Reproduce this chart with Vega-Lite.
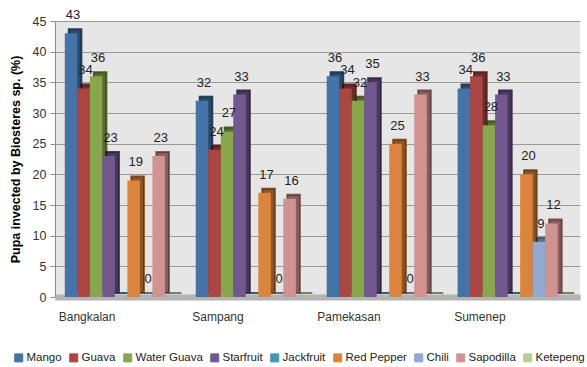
{
  "$schema": "https://vega.github.io/schema/vega-lite/v6.json",
  "width": 525,
  "height": 276,
  "autosize": {"type": "none"},
  "padding": {"left": 55, "top": 21, "right": 7, "bottom": 70},
  "background": "white",
  "config": {
    "font": "Liberation Sans",
    "view": {"fill": "#e6e6e6", "stroke": null}
  },
  "data": {
    "values": [
      {"region": "Bangkalan", "series": "Mango", "value": 43},
      {"region": "Bangkalan", "series": "Guava", "value": 34},
      {"region": "Bangkalan", "series": "Water Guava", "value": 36},
      {"region": "Bangkalan", "series": "Starfruit", "value": 23},
      {"region": "Bangkalan", "series": "Jackfruit", "value": 0},
      {"region": "Bangkalan", "series": "Red Pepper", "value": 19},
      {"region": "Bangkalan", "series": "Chili", "value": 0},
      {"region": "Bangkalan", "series": "Sapodilla", "value": 23},
      {"region": "Bangkalan", "series": "Ketepeng", "value": 0},
      {"region": "Sampang", "series": "Mango", "value": 32},
      {"region": "Sampang", "series": "Guava", "value": 24},
      {"region": "Sampang", "series": "Water Guava", "value": 27},
      {"region": "Sampang", "series": "Starfruit", "value": 33},
      {"region": "Sampang", "series": "Jackfruit", "value": 0},
      {"region": "Sampang", "series": "Red Pepper", "value": 17},
      {"region": "Sampang", "series": "Chili", "value": 0},
      {"region": "Sampang", "series": "Sapodilla", "value": 16},
      {"region": "Sampang", "series": "Ketepeng", "value": 0},
      {"region": "Pamekasan", "series": "Mango", "value": 36},
      {"region": "Pamekasan", "series": "Guava", "value": 34},
      {"region": "Pamekasan", "series": "Water Guava", "value": 32},
      {"region": "Pamekasan", "series": "Starfruit", "value": 35},
      {"region": "Pamekasan", "series": "Jackfruit", "value": 0},
      {"region": "Pamekasan", "series": "Red Pepper", "value": 25},
      {"region": "Pamekasan", "series": "Chili", "value": 0},
      {"region": "Pamekasan", "series": "Sapodilla", "value": 33},
      {"region": "Pamekasan", "series": "Ketepeng", "value": 0},
      {"region": "Sumenep", "series": "Mango", "value": 34},
      {"region": "Sumenep", "series": "Guava", "value": 36},
      {"region": "Sumenep", "series": "Water Guava", "value": 28},
      {"region": "Sumenep", "series": "Starfruit", "value": 33},
      {"region": "Sumenep", "series": "Jackfruit", "value": 0},
      {"region": "Sumenep", "series": "Red Pepper", "value": 20},
      {"region": "Sumenep", "series": "Chili", "value": 9},
      {"region": "Sumenep", "series": "Sapodilla", "value": 12},
      {"region": "Sumenep", "series": "Ketepeng", "value": 0}
    ]
  },
  "encoding": {
    "x": {
      "field": "region",
      "type": "nominal",
      "sort": ["Bangkalan", "Sampang", "Pamekasan", "Sumenep"],
      "scale": {"paddingInner": 0.14, "paddingOuter": 0.075},
      "axis": {
        "title": null,
        "labelAngle": 0,
        "labelFontSize": 12,
        "labelColor": "#333333",
        "labelPadding": 14,
        "labelOffset": -34,
        "ticks": false,
        "domainColor": "#b3b3b3",
        "domainWidth": 6
      }
    },
    "y": {
      "field": "value",
      "type": "quantitative",
      "scale": {"domain": [0, 45], "nice": false},
      "axis": {
        "title": "Pupa invected by Biosteres sp. (%)",
        "titleFontSize": 12.5,
        "titleFontWeight": "bold",
        "titleColor": "#000000",
        "titlePadding": 10,
        "values": [0, 5, 10, 15, 20, 25, 30, 35, 40, 45],
        "labelFontSize": 12.5,
        "labelColor": "#333333",
        "labelPadding": 4,
        "tickSize": 5,
        "tickColor": "#8c8c8c",
        "domainColor": "#8c8c8c",
        "gridColor": "#9a9a9a",
        "gridWidth": 1
      }
    }
  },
  "resolve": {"scale": {"xOffset": "independent"}},
  "layer": [
    {
      "mark": {"type": "bar", "yOffset": -4, "strokeWidth": 2},
      "encoding": {
        "xOffset": {
          "field": "series",
          "type": "nominal",
          "scale": {
            "domain": ["Mango", "Guava", "Water Guava", "Starfruit", "Jackfruit", "Red Pepper", "Chili", "Sapodilla", "Ketepeng"],
            "paddingInner": 0, "paddingOuter": 0, "range": [4, 116.6]
          }
        },
        "color": {"field": "series", "type": "nominal"},
        "stroke": {
          "field": "series",
          "type": "nominal",
          "scale": {
            "domain": ["Mango", "Guava", "Water Guava", "Starfruit", "Jackfruit", "Red Pepper", "Chili", "Sapodilla", "Ketepeng"],
            "range": ["#4572a7", "#aa4643", "#89a54e", "#71588f", "#4198af", "#db843d", "#93a9cf", "#d19392", "#b9cd96"]
          },
          "legend": null
        }
      }
    },
    {
      "mark": {"type": "bar", "yOffset": -4, "fill": "#000000", "fillOpacity": 0.35, "stroke": "#000000", "strokeOpacity": 0.35, "strokeWidth": 2},
      "encoding": {
        "xOffset": {
          "field": "series",
          "type": "nominal",
          "scale": {
            "domain": ["Mango", "Guava", "Water Guava", "Starfruit", "Jackfruit", "Red Pepper", "Chili", "Sapodilla", "Ketepeng"],
            "paddingInner": 0, "paddingOuter": 0, "range": [4, 116.6]
          }
        }
      }
    },
    {
      "mark": {"type": "bar"},
      "encoding": {
        "xOffset": {
          "field": "series",
          "type": "nominal",
          "scale": {
            "domain": ["Mango", "Guava", "Water Guava", "Starfruit", "Jackfruit", "Red Pepper", "Chili", "Sapodilla", "Ketepeng"],
            "paddingInner": 0, "paddingOuter": 0, "range": [0, 112.6]
          }
        },
        "color": {
          "field": "series",
          "type": "nominal",
          "scale": {
            "domain": ["Mango", "Guava", "Water Guava", "Starfruit", "Jackfruit", "Red Pepper", "Chili", "Sapodilla", "Ketepeng"],
            "range": ["#4572a7", "#aa4643", "#89a54e", "#71588f", "#4198af", "#db843d", "#93a9cf", "#d19392", "#b9cd96"]
          },
          "legend": {
            "title": null,
            "orient": "none",
            "legendX": -42,
            "legendY": 331,
            "direction": "horizontal",
            "columns": 9,
            "columnPadding": 5,
            "symbolType": "square",
            "symbolSize": 64,
            "symbolStrokeWidth": 1,
            "labelFontSize": 11.5,
            "labelColor": "#222222",
            "labelOffset": 2
          }
        }
      }
    },
    {
      "transform": [{"filter": "datum.series != 'Jackfruit' && datum.series != 'Ketepeng'"}],
      "mark": {"type": "text", "baseline": "bottom", "dy": -11, "dx": 2, "fontSize": 13, "color": "#222222"},
      "encoding": {
        "xOffset": {
          "field": "series",
          "type": "nominal",
          "scale": {
            "type": "band",
            "domain": ["Mango", "Guava", "Water Guava", "Starfruit", "Jackfruit", "Red Pepper", "Chili", "Sapodilla", "Ketepeng"],
            "paddingInner": 0, "paddingOuter": 0, "range": [0, 112.6]
          }
        },
        "text": {"field": "value", "type": "quantitative"}
      }
    }
  ]
}
